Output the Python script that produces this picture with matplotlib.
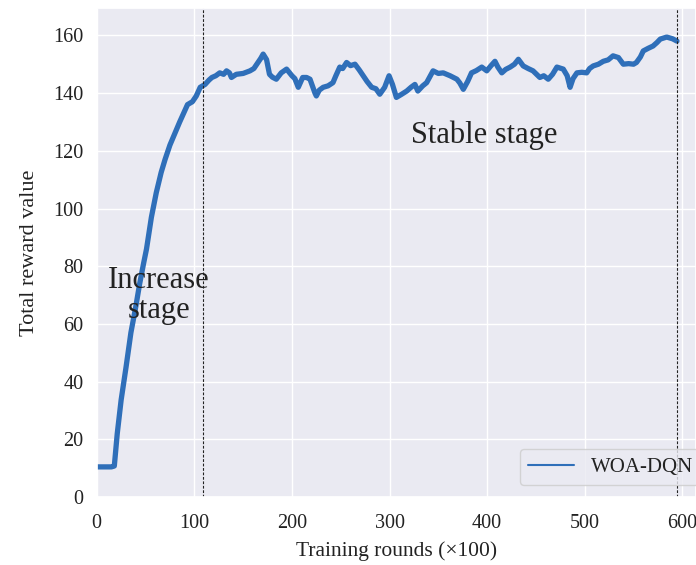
import matplotlib
matplotlib.use("Agg")
import matplotlib.pyplot as plt
import seaborn as sns

# Training curve (rounds in units of 100, total reward)
rounds = [0, 5, 10, 15, 18, 21, 25, 30, 35, 40, 44, 48, 51, 56, 61, 66, 70, 75,
          80, 85, 89, 93, 98, 102, 106, 111, 115, 118, 122, 126, 130, 133, 136,
          138, 143, 150, 157, 161, 164, 168, 170.5, 174, 177, 180, 184, 189,
          194.5, 200, 203, 206.5, 211, 215, 218.5, 223.6, 225, 228, 232, 237,
          242, 245, 249, 252, 256, 260, 264.6, 269, 273, 277, 281.7, 286, 290,
          295, 299.5, 303, 307, 312, 317.6, 322, 326, 329, 334, 338, 341,
          344.6, 350, 355, 362, 369, 372, 375.6, 380, 384, 389, 394.5, 399.6,
          404, 408, 411, 415, 419, 423.6, 428, 432, 437, 442, 447, 454, 458,
          462.6, 467, 471.5, 478, 482, 485, 488, 492, 497, 502, 505, 508.7,
          514, 519, 524, 529, 534.5, 539.5, 545, 550, 553, 557, 560, 565, 570,
          574, 577.4, 584, 590, 594.5]
reward = [10.5, 10.5, 10.5, 10.5, 10.8, 22, 33.7, 45, 57, 66, 74, 81, 86, 97,
          105.5, 112.5, 117, 122, 126, 130, 133, 136, 137, 139, 142, 143,
          144.5, 145.4, 146, 147, 146.5, 147.7, 147, 145.4, 146.5, 146.8,
          147.7, 148.5, 150, 152, 153.5, 151.6, 146.5, 145.5, 144.8, 147,
          148.3, 146, 145, 142, 145.4, 145.4, 144.8, 140, 139, 141, 142,
          142.5, 143.6, 146, 149, 148.5, 150.6, 149.5, 150, 148, 146, 144,
          142, 141.5, 139.6, 142, 146, 143, 138.5, 139.5, 140.7, 142, 143,
          140.7, 142.5, 143.6, 145.5, 147.7, 146.8, 147, 146, 144.8, 143.5,
          141.3, 144, 147, 147.8, 149, 147.7, 149.5, 151, 149, 147, 148.2,
          149, 150, 151.7, 149.4, 148.5, 147.7, 145.4, 146, 144.8, 146.5, 149,
          148.3, 146, 142, 145, 147, 147.2, 147, 148.5, 149.4, 150, 151,
          151.5, 152.9, 152.3, 150, 150.2, 150, 150.6, 152.5, 154.6, 155.5,
          156.3, 157.5, 158.7, 159.4, 158.8, 158]

stage_bounds = [109, 595]
series_label = "WOA-DQN"
line_color = "#2f6fb9"

sns.set_theme(style="darkgrid")
plt.rcParams["font.family"] = ["Liberation Serif", "DejaVu Serif"]

fig = plt.figure(figsize=(6.96, 5.65), dpi=100)
ax = fig.add_axes([0.139, 0.120, 0.861, 0.866])

ax.plot(rounds, reward, color=line_color, lw=3.8, label=series_label,
        solid_joinstyle="round", solid_capstyle="round")
for xb in stage_bounds:
    ax.axvline(xb, color="#222222", ls="--", lw=0.8, dashes=(2.5, 1.5))

ax.text(63.5, 70, "Increase\nstage", ha="center", va="center",
        fontsize=22, color="#222222", linespacing=1.05)
ax.text(397, 125.5, "Stable stage", ha="center", va="center",
        fontsize=22, color="#222222")

ax.set_xlim(0, 614)
ax.set_ylim(0, 169.5)
ax.set_xticks(range(0, 601, 100))
ax.set_yticks(range(0, 161, 20))
ax.tick_params(labelsize=14.5, colors="#222222")
ax.tick_params(axis="x", pad=6)
ax.set_xlabel("Training rounds (×100)", fontsize=15.5, color="#222222", labelpad=6)
ax.set_ylabel("Total reward value", fontsize=16, color="#222222", labelpad=10)

leg = ax.legend(loc="lower left", bbox_to_anchor=(0.706, 0.024), borderaxespad=0,
                fontsize=15, frameon=True, handlelength=2.2, borderpad=0.4)
for txt in leg.get_texts():
    txt.set_color("#222222")
for h in leg.get_lines():
    h.set_linewidth(1.5)

fig.savefig("out.png", dpi=100)
